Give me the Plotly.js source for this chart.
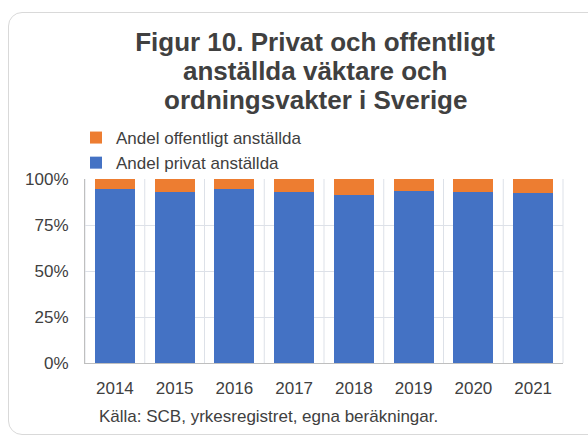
<!DOCTYPE html>
<html>
<head>
<meta charset="utf-8">
<script src="https://cdn.plot.ly/plotly-3.0.1.min.js"></script>
<style>
html,body{margin:0;padding:0;background:#fff;overflow:hidden;}
#card{position:absolute;left:8px;top:12px;width:620px;height:423px;border:1px solid #d9d9d9;border-radius:14px;box-sizing:border-box;}
#chart{position:absolute;left:0;top:0;width:588px;height:439px;}
</style>
</head>
<body>
<div id="card"></div>
<div id="chart"></div>
<script>
var years = ['2014','2015','2016','2017','2018','2019','2020','2021'];
var privat = [94.5, 93.1, 94.5, 92.7, 91.3, 93.6, 93.1, 92.2];
var offentligt = [5.5, 6.9, 5.5, 7.3, 8.7, 6.4, 6.9, 7.8];
var yTicks = [0, 25, 50, 75, 100];
var yTickText = ['0%', '25%', '50%', '75%', '100%'];
var titleLines = ['Figur 10. Privat och offentligt', 'anställda väktare och', 'ordningsvakter i Sverige'];
var sourceText = 'Källa: SCB, yrkesregistret, egna beräkningar.';

var font = 'Liberation Sans, Arial, sans-serif';
var txt = '#404040';

var W = 588, H = 439, L = 85, R = 25, T = 179, B = 76;
var plotH = H - T - B, plotW = W - L - R;
function py(px) { return (H - B - px) / plotH; }   // pixel y -> paper y
function pxx(px) { return (px - L) / plotW; }     // pixel x -> paper x

var traces = [
  {type:'bar', name:'Andel privat anställda', x:years, y:privat, marker:{color:'#4472C4'}, hoverinfo:'x+y'},
  {type:'bar', name:'Andel offentligt anställda', x:years, y:offentligt, marker:{color:'#ED7D31'}, hoverinfo:'x+y'}
];

var layout = {
  width:W, height:H,
  paper_bgcolor:'rgba(0,0,0,0)', plot_bgcolor:'rgba(0,0,0,0)',
  margin:{l:L, r:R, t:T, b:B},
  barmode:'stack', bargap:0.33,
  font:{family:font, color:txt, size:17},
  title:{text:'<b>' + titleLines[0] + '</b>',
         x:315/W, xanchor:'center', xref:'container', y:1-42/H, yanchor:'middle', yref:'container',
         font:{family:font, size:26, color:txt}},
  showlegend:true,
  legend:{traceorder:'reversed', orientation:'v', x:pxx(76), xanchor:'left', y:py(120), yanchor:'top',
          font:{family:font, size:17, color:txt}, bgcolor:'rgba(0,0,0,0)', itemclick:false, tracegroupgap:0},
  xaxis:{type:'category', showline:true, linecolor:'#bfbfbf', linewidth:1,
         showgrid:false, ticks:'', ticklabelstandoff:10, tickfont:{family:font, size:17, color:txt}, fixedrange:true},
  yaxis:{range:[0,100], tickvals:yTicks, ticktext:yTickText, showline:true, linecolor:'#bfbfbf', linewidth:1,
         showgrid:true, gridcolor:'#dde1e8', gridwidth:1, zeroline:false, ticks:'', ticklabelstandoff:12,
         tickfont:{family:font, size:17, color:txt}, fixedrange:true},
  shapes:[],
  annotations:[
    {text:'<b>' + titleLines[1] + '</b>', xref:'paper', yref:'paper', x:pxx(315), xanchor:'center',
     y:py(71), yanchor:'middle', showarrow:false, font:{family:font, size:26, color:txt}},
    {text:'<b>' + titleLines[2] + '</b>', xref:'paper', yref:'paper', x:pxx(315), xanchor:'center',
     y:py(100), yanchor:'middle', showarrow:false, font:{family:font, size:26, color:txt}},
    {text:sourceText, xref:'paper', yref:'paper',
     x:pxx(97), xanchor:'left', y:py(416), yanchor:'middle', showarrow:false,
     font:{family:font, size:17, color:txt}}
  ]
};
// light vertical gridlines at category boundaries
for (var i = 0; i <= years.length; i++) {
  layout.shapes.push({type:'line', xref:'paper', yref:'paper', x0:i/years.length, x1:i/years.length, y0:0, y1:1,
    line:{color:'#dde1e8', width:1}, layer:'below'});
}
Plotly.newPlot('chart', traces, layout, {displayModeBar:false});
</script>
</body>
</html>
